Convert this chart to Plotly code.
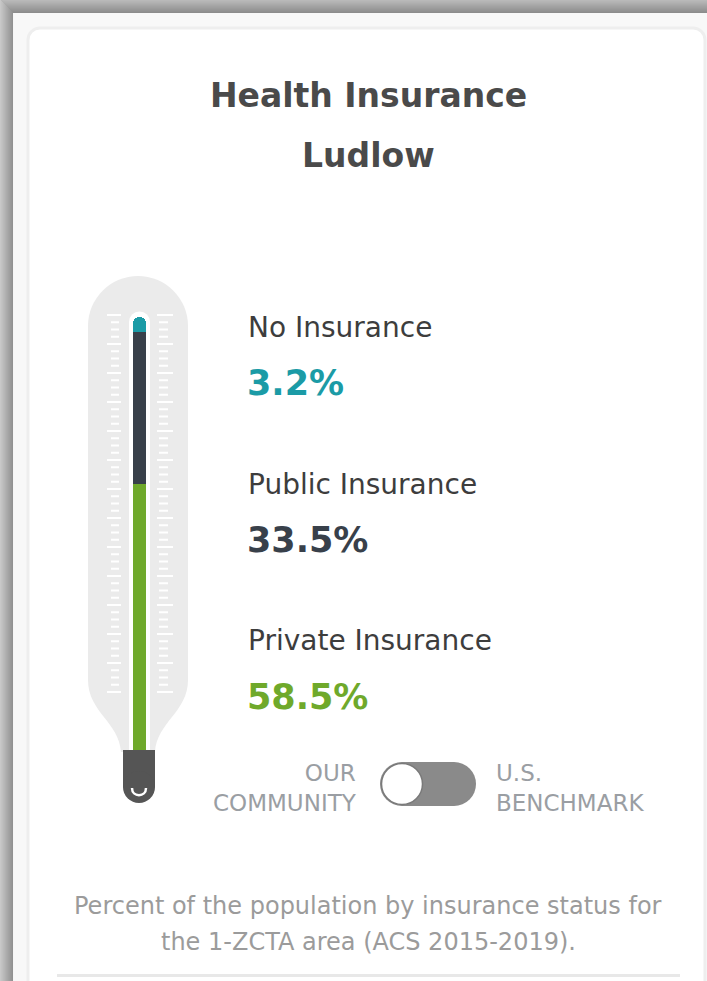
import plotly.graph_objects as go

# ---- data ----
categories = ["No Insurance", "Public Insurance", "Private Insurance"]
values = [3.2, 33.5, 58.5]
value_labels = ["3.2%", "33.5%", "58.5%"]
colors = ["#1b9ba6", "#38404a", "#6fa92b"]
title_lines = ["Health Insurance", "Ludlow"]
toggle_left = ["OUR", "COMMUNITY"]
toggle_right = ["U.S.", "BENCHMARK"]
footer_lines = ["Percent of the population by insurance status for",
                "the 1-ZCTA area (ACS 2015-2019)."]

W, H = 707, 981
FONT = "DejaVu Sans"


def px(x):
    return x / W


def py(y):
    return 1 - y / H


def path(cmds):
    out = []
    for c in cmds:
        if isinstance(c, str):
            out.append(c)
        else:
            out.append(f"{px(c[0]):.5f},{py(c[1]):.5f}")
    return " ".join(out)


shapes = []


def rect(x0, y0, x1, y1, fill, line=None, lw=0):
    shapes.append(dict(type="rect", xref="paper", yref="paper",
                       x0=px(x0), x1=px(x1), y0=py(y1), y1=py(y0),
                       fillcolor=fill, line=dict(width=lw, color=line or fill),
                       layer="below"))


def circle(cx, cy, r, fill, line=None, lw=0):
    shapes.append(dict(type="circle", xref="paper", yref="paper",
                       x0=px(cx - r), x1=px(cx + r), y0=py(cy + r), y1=py(cy - r),
                       fillcolor=fill, line=dict(width=lw, color=line or fill),
                       layer="below"))


def pshape(cmds, fill=None, line=None, lw=0):
    d = dict(type="path", xref="paper", yref="paper", path=path(cmds),
             line=dict(width=lw, color=line or "rgba(0,0,0,0)"), layer="below")
    if fill:
        d["fillcolor"] = fill
    shapes.append(d)


# ---- page background & shadow strips ----
def lerp(c0, c1, t):
    return "#%02x%02x%02x" % tuple(int(round(c0[i] + (c1[i] - c0[i]) * t)) for i in range(3))


for i in range(13):
    col = lerp((185, 185, 185), (140, 140, 140), i / 12)
    rect(0, i, W, i + 1.02, col)
for i in range(13):
    col = lerp((200, 200, 200), (145, 145, 145), i / 12)
    rect(i, i, i + 1.02, H, col)

# ---- card ----
k = 0.45
r = 12
x0c, y0c, x1c = 28, 28, 705
pshape(["M", (x0c, H + 20), "L", (x0c, y0c + r), "C", (x0c, y0c + r * k), (x0c + r * k, y0c),
        (x0c + r, y0c), "L", (x1c - r, y0c), "C", (x1c - r * k, y0c), (x1c, y0c + r * k),
        (x1c, y0c + r), "L", (x1c, H + 20), "Z"], fill="#ffffff", line="#eeeeee", lw=3)

# ---- thermometer body ----
body = "#ebebeb"
circle(138, 326, 50, body)
pshape(["M", (88, 326), "L", (188, 326), "L", (188, 680),
        "C", (188, 712), (157, 722), (155, 752), "L", (121, 752),
        "C", (119, 722), (88, 712), (88, 680), "Z"], fill=body)
# tube
circle(139.5, 322, 10.5, "#ffffff")
rect(129, 322, 150, 752, "#ffffff")

# tick marks (decoration)
for i in range(60):
    y = 315 + i * 7.25
    if y > 692:
        break
    if i % 4 == 0:
        rect(107, y - 1, 121, y + 1, "#ffffff")
        rect(157, y - 1, 173, y + 1, "#ffffff")
    else:
        rect(111, y - 1, 119, y + 1, "#ffffff")
        rect(159, y - 1, 168, y + 1, "#ffffff")

# bulb
bulb = "#555555"
rect(123, 750, 155, 787, bulb)
circle(139, 787, 16, bulb)
pshape(["M", (132, 788), "C", (132, 797.5), (146, 797.5), (146, 788)],
       line="#ffffff", lw=2.5)

# ---- toggle ----
tog = "#8a8a8a"
circle(402, 784, 22, tog)
circle(454, 784, 22, tog)
rect(402, 762, 454, 806, tog)
circle(402, 784, 20.5, "#ffffff", line="#7a7a7a", lw=1.5)

# separator line
rect(57, 974, 680, 977, "#e8e8e8")

# ---- bars (stacked, bottom = private) ----
fig = go.Figure()
total = sum(values)
for cat, val, col in reversed(list(zip(categories, values, colors))):
    fig.add_trace(go.Bar(x=["Ludlow"], y=[val], name=cat, marker=dict(color=col, line=dict(width=0)),
                         hoverinfo="skip", showlegend=False))

# ---- annotations ----
ann = []


def text(x, y, s, size, color, bold=False, xanchor="left", family=FONT, align=None):
    ann.append(dict(xref="paper", yref="paper", x=px(x), y=py(y), text=(f"<b>{s}</b>" if bold else s),
                    showarrow=False, xanchor=xanchor, yanchor="middle", align=align or xanchor,
                    font=dict(family=family, size=size, color=color)))


text(368, 95, title_lines[0], 33, "#4a4a4a", bold=True, xanchor="center")
text(368, 155, title_lines[1], 33, "#4a4a4a", bold=True, xanchor="center")

label_y = [328, 484, 640]
value_y = [383, 540, 697]
for cat, vl, col, ly, vy in zip(categories, value_labels, colors, label_y, value_y):
    text(246, ly, cat, 28, "#3d3d3d")
    text(245, vy, vl, 35, col, bold=True)

text(359, 788, "<br>".join(toggle_left), 23, "#9a9ea3", xanchor="right")
text(494, 788, "<br>".join(toggle_right), 23, "#9a9ea3", xanchor="left")

text(368, 906, footer_lines[0], 24, "#9b9b9b", xanchor="center")
text(368, 942, footer_lines[1], 24, "#9b9b9b", xanchor="center")

fig.update_layout(
    width=W, height=H,
    margin=dict(l=0, r=0, t=0, b=0),
    paper_bgcolor="#f8f8f8",
    plot_bgcolor="rgba(0,0,0,0)",
    barmode="stack", bargap=0, barcornerradius=7,
    shapes=shapes, annotations=ann,
    xaxis=dict(domain=[px(133), px(146)], type="category", range=[-0.5, 0.5], visible=False,
               fixedrange=True),
    yaxis=dict(domain=[py(750), py(317)], range=[0, total], visible=False, fixedrange=True),
    showlegend=False,
)

fig.write_html("out.html", config=dict(displayModeBar=False),
               post_script="document.body.style.margin='0';document.body.style.overflow='hidden';")
